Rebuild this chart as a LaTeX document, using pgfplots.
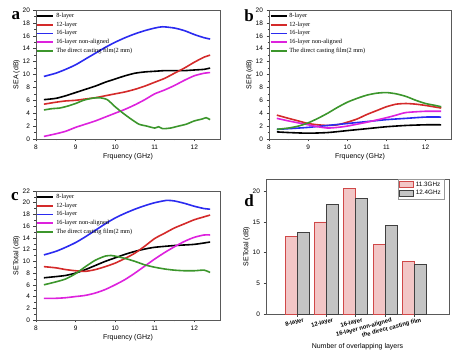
\documentclass[border=0pt]{standalone}
\usepackage{fontspec}
\setmainfont{Liberation Sans}
\newfontfamily\serif{Liberation Serif}
\usepackage{pgfplots}
\pgfplotsset{compat=1.18}
\definecolor{cR}{HTML}{D42A2A}
\definecolor{cB}{HTML}{2B2BF0}
\definecolor{cM}{HTML}{DD22DD}
\definecolor{cG}{HTML}{3C962C}
\definecolor{pinkf}{HTML}{F2C6C6}
\definecolor{pinkd}{HTML}{D04848}
\definecolor{grayf}{HTML}{C4C4C4}
\pgfplotsset{
 panel/.style={scale only axis, anchor=south west,
  axis line style={black!65}, tick style={black!75, line width=0.5pt},
  tick align=outside, tick pos=left,
  major tick length=2.5pt, minor tick length=1.5pt,
  /pgf/number format/assume math mode=true,
  tick label style={font=\fontsize{6.5}{7}\selectfont},
  label style={font=\fontsize{7}{8}\selectfont},
  xmin=8, xmax=12.65, xtick={8,9,10,11,12}, minor x tick num=1,
  ymin=0, minor y tick num=1,
  xlabel={Frquency (GHz)},
  xlabel style={yshift=3pt}, ylabel style={yshift=-4pt},
  legend cell align=left,
  legend style={at={(0,1)}, anchor=north west, xshift=0.5pt, yshift=-1pt, draw=none, fill=none,
    font=\serif\fontsize{6.3}{7}\selectfont, row sep=-1.2pt, inner sep=0pt},
  legend image code/.code={\draw[#1, line width=1.6pt] (0pt,0pt) -- (16pt,0pt);},
  every axis plot/.append style={line width=1.6pt, smooth, tension=0.4},
 },
}
\begin{document}
\begin{tikzpicture}
\path[use as bounding box] (0,0) rectangle (452pt,353pt);
% ---------- a ----------
\begin{axis}[panel, at={(36pt,214pt)}, width=184pt, height=129pt, ymax=20, ytick={0,2,...,20}, ylabel={SEA (dB)}]
\addplot[black] coordinates {(8.2,6.1)(8.5,6.3)(8.75,6.7)(9,7.2)(9.25,7.7)(9.5,8.2)(9.75,8.8)(10,9.3)(10.25,9.8)(10.5,10.2)(10.75,10.4)(11,10.5)(11.25,10.6)(11.5,10.6)(11.75,10.6)(12,10.7)(12.25,10.8)(12.4,11.0)};
\addplot[cR] coordinates {(8.2,5.4)(8.5,5.7)(8.75,5.9)(9,6.0)(9.25,6.2)(9.5,6.4)(9.75,6.7)(10,7.0)(10.25,7.3)(10.5,7.7)(10.75,8.2)(11,8.8)(11.25,9.4)(11.5,10.2)(11.75,11.0)(12,11.9)(12.25,12.7)(12.4,13.0)};
\addplot[cB] coordinates {(8.2,9.7)(8.5,10.2)(8.75,10.8)(9,11.5)(9.25,12.4)(9.5,13.3)(9.75,14.2)(10,15.0)(10.25,15.7)(10.5,16.3)(10.75,16.8)(11,17.2)(11.2,17.4)(11.5,17.2)(11.75,16.8)(12,16.2)(12.25,15.7)(12.4,15.5)};
\addplot[cM] coordinates {(8.2,0.4)(8.5,0.8)(8.75,1.2)(9,1.8)(9.25,2.3)(9.5,2.8)(9.75,3.4)(10,4.0)(10.25,4.6)(10.5,5.3)(10.75,6.1)(11,7.0)(11.25,7.6)(11.5,8.3)(11.75,9.1)(12,9.8)(12.25,10.2)(12.4,10.3)};
\addplot[cG] coordinates {(8.2,4.5)(8.4,4.7)(8.6,4.8)(8.8,5.1)(9,5.5)(9.2,6.0)(9.4,6.3)(9.6,6.4)(9.8,6.1)(10,5.0)(10.2,4.0)(10.4,3.1)(10.6,2.3)(10.8,2.0)(11,1.7)(11.1,1.9)(11.2,1.6)(11.4,1.7)(11.6,2.0)(11.8,2.3)(12,2.8)(12.2,3.1)(12.3,3.3)(12.4,3.0)};
\legend{8-layer,12-layer,16-layer,16-layer non-aligned,The direct casting film(2 mm)}
\end{axis}
% ---------- b ----------
\begin{axis}[panel, at={(269pt,214pt)}, width=182pt, height=129pt, ymax=20, ytick={0,2,...,20}, ylabel={SER (dB)}]
\addplot[black] coordinates {(8.2,1.1)(8.5,1.0)(9,0.9)(9.5,1.0)(10,1.3)(10.5,1.6)(11,1.9)(11.5,2.1)(12,2.2)(12.4,2.2)};
\addplot[cR] coordinates {(8.2,3.7)(8.5,3.2)(8.75,2.8)(9,2.4)(9.25,2.2)(9.5,2.1)(9.75,2.2)(10,2.6)(10.25,3.1)(10.5,3.8)(10.75,4.4)(11,5.0)(11.25,5.4)(11.5,5.5)(11.75,5.4)(12,5.2)(12.4,4.8)};
\addplot[cB] coordinates {(8.2,1.5)(8.5,1.6)(9,1.8)(9.5,2.1)(10,2.4)(10.5,2.7)(11,3.0)(11.5,3.2)(12,3.4)(12.4,3.4)};
\addplot[cM] coordinates {(8.2,3.2)(8.5,2.8)(9,2.2)(9.25,1.9)(9.5,1.7)(9.75,1.8)(10,2.0)(10.5,2.6)(11,3.3)(11.25,3.7)(11.5,4.1)(12,4.3)(12.4,4.3)};
\addplot[cG] coordinates {(8.2,1.5)(8.5,1.7)(8.75,2.0)(9,2.5)(9.25,3.2)(9.5,4.0)(9.75,4.9)(10,5.7)(10.25,6.3)(10.5,6.8)(10.75,7.1)(11,7.2)(11.25,7.0)(11.5,6.6)(11.75,6.0)(12,5.5)(12.25,5.2)(12.4,5.0)};
\legend{8-layer,12-layer,16-layer,16-layer non-aligned,The direct casting film(2 mm)}
\end{axis}
% ---------- c ----------
\begin{axis}[panel, at={(36pt,33pt)}, width=184pt, height=129pt, ymax=22, ytick={0,2,...,22}, ylabel={SETotal (dB)}]
\addplot[black] coordinates {(8.2,7.2)(8.5,7.4)(8.75,7.6)(9,8.0)(9.25,8.6)(9.5,9.3)(9.75,10.0)(10,10.6)(10.25,11.2)(10.5,11.7)(10.75,12.1)(11,12.4)(11.5,12.7)(12,12.9)(12.4,13.3)};
\addplot[cR] coordinates {(8.2,9.1)(8.5,8.9)(8.75,8.6)(9,8.4)(9.25,8.3)(9.5,8.6)(9.75,9.1)(10,9.7)(10.25,10.5)(10.5,11.4)(10.75,12.6)(11,13.9)(11.25,14.8)(11.5,15.7)(11.75,16.4)(12,17.1)(12.25,17.6)(12.4,17.9)};
\addplot[cB] coordinates {(8.2,11.1)(8.5,11.7)(8.75,12.4)(9,13.2)(9.25,14.2)(9.5,15.3)(9.75,16.4)(10,17.4)(10.25,18.2)(10.5,18.9)(10.75,19.5)(11,20.0)(11.3,20.4)(11.5,20.3)(11.75,19.9)(12,19.4)(12.25,19.0)(12.4,18.9)};
\addplot[cM] coordinates {(8.2,3.7)(8.5,3.7)(8.75,3.8)(9,4.0)(9.25,4.2)(9.5,4.6)(9.75,5.2)(10,6.0)(10.25,6.9)(10.5,8.0)(10.75,9.2)(11,10.4)(11.25,11.5)(11.5,12.5)(11.75,13.4)(12,14.1)(12.25,14.5)(12.4,14.5)};
\addplot[cG] coordinates {(8.2,6.0)(8.5,6.5)(8.75,7.0)(9,7.9)(9.25,9.1)(9.5,10.2)(9.75,10.9)(9.9,11.0)(10,10.9)(10.25,10.5)(10.5,10.0)(10.75,9.4)(11,9.0)(11.25,8.7)(11.5,8.5)(11.75,8.4)(12,8.4)(12.25,8.5)(12.4,8.1)};
\legend{8-layer,12-layer,16-layer,16-layer non-aligned,The direct casting film(2 mm)}
\end{axis}
% ---------- d ----------
\begin{axis}[scale only axis, anchor=south west, at={(266pt,39pt)}, width=183pt, height=135pt,
  axis line style={black!65}, tick style={black!75, line width=0.5pt}, tick align=outside, tick pos=left,
  major tick length=2.5pt,
  /pgf/number format/assume math mode=true,
  xmin=-0.06, xmax=6.18, ymin=0, ymax=22, ytick={0,5,10,15,20},
  xtick={1,2,3,4,5}, xticklabels={8-layer,12-layer,16-layer,16-layer non-aligned,the direct casting film},
  xticklabel style={font=\bfseries\fontsize{5.9}{7}\selectfont, rotate=15, anchor=north east, xshift=9pt, yshift=1pt},
  yticklabel style={font=\fontsize{6.5}{7}\selectfont},
  label style={font=\fontsize{7}{8}\selectfont},
  xlabel={Number of overlapping layers}, ylabel={SETotal (dB)},
  xlabel style={yshift=3pt}, ylabel style={yshift=-4pt},
  legend cell align=left,
  legend style={at={(1,1)}, anchor=north east, xshift=-5pt, yshift=0pt, draw=black!40, fill=white,
    font=\fontsize{6.3}{7}\selectfont, row sep=-1.5pt, inner sep=1pt},
  ybar, bar width=12pt]
\addplot[draw=pinkd, fill=pinkf, line width=0.8pt, bar shift=-6pt,
  legend image code/.code={\draw[draw=pinkd, fill=pinkf, line width=0.8pt] (0pt,-2.5pt) rectangle (14pt,3.5pt);}]
  coordinates {(1,12.7)(2,15.0)(3,20.4)(4,11.4)(5,8.6)};
\addplot[draw=black!75, fill=grayf, line width=0.8pt, bar shift=6pt,
  legend image code/.code={\draw[draw=black!75, fill=grayf, line width=0.8pt] (0pt,-2.5pt) rectangle (14pt,3.5pt);}]
  coordinates {(1,13.3)(2,17.9)(3,18.9)(4,14.5)(5,8.1)};
\legend{11.3GHz,12.4GHz}
\end{axis}
% panel letters
\node[font=\serif\bfseries\fontsize{17}{17}\selectfont] at (16pt,337pt) {a};
\node[font=\serif\bfseries\fontsize{17}{17}\selectfont] at (249pt,337pt) {b};
\node[font=\serif\bfseries\fontsize{17}{17}\selectfont] at (15pt,156pt) {c};
\node[font=\serif\bfseries\fontsize{17}{17}\selectfont] at (249pt,152pt) {d};
\end{tikzpicture}
\end{document}
